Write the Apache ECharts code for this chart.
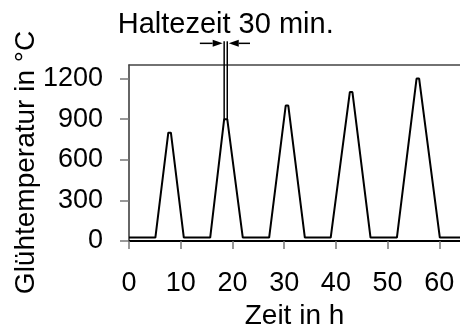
<!DOCTYPE html>
<html>
<head>
<meta charset="utf-8">
<script src="https://cdn.jsdelivr.net/npm/echarts@6/dist/echarts.min.js"></script>
<style>
  html, body { margin: 0; padding: 0; background: #fff; }
  #chart { width: 460px; height: 324px; }
</style>
</head>
<body>
<div id="chart"></div>
<script>
// Annealing cycles: time in hours vs. annealing temperature in °C
const timeH = [0, 5.1, 7.6, 8.1, 10.6, 15.7, 18.4, 19.0, 22.0, 27.1, 30.3, 30.8, 34.0, 39.0, 42.7, 43.2, 46.7, 51.8, 55.6, 56.1, 60.1, 64];
const tempC = [25, 25, 800, 800, 25, 25, 900, 900, 25, 25, 1000, 1000, 25, 25, 1100, 1100, 25, 25, 1200, 1200, 25, 25];

// Holding time marker (30 min) on the second cycle
const holdStartH = 18.4;
const holdEndH = 19.0;
const holdBaseC = 900;
const holdTopC = 1475;
const arrowLevelC = 1460;
const arrowLeftFromH = 13.7;
const arrowRightFromH = 23.4;
const holdLabel = 'Haltezeit 30 min.';

// Axes
const xTicks = [0, 10, 20, 30, 40, 50, 60];
const yTicks = [0, 300, 600, 900, 1200];
const xMax = 64;
const yMax = 1300;
const xTitle = 'Zeit in h';
const yTitle = 'Glühtemperatur in °C';

const FONT = 'Liberation Sans, Arial, Helvetica, sans-serif';

const chart = echarts.init(document.getElementById('chart'), null, { renderer: 'canvas' });

const curve = timeH.map((t, i) => [t, tempC[i]]);

chart.setOption({
  animation: false,
  backgroundColor: '#fff',
  grid: { left: 129, top: 65, width: 331, height: 176, containLabel: false, outerBoundsMode: 'none' },
  xAxis: [
    {
      type: 'value', min: 0, max: xMax, interval: 10,
      position: 'bottom',
      axisLine: { onZero: false, lineStyle: { color: '#000', width: 2 } },
      axisTick: { customValues: xTicks, length: 8, lineStyle: { color: '#777', width: 1.5 } },
      axisLabel: { customValues: xTicks, margin: 29, fontSize: 27, color: '#000', fontFamily: FONT,
                   formatter: v => String(v) },
      splitLine: { show: false },
      name: xTitle, nameLocation: 'middle', nameGap: 56,
      nameTextStyle: { fontSize: 28, color: '#000', fontFamily: FONT }
    },
    {
      type: 'value', min: 0, max: xMax, position: 'top',
      axisLine: { show: true, onZero: false, lineStyle: { color: '#444', width: 1.5 } },
      axisTick: { show: false }, axisLabel: { show: false }, splitLine: { show: false }
    }
  ],
  yAxis: {
    type: 'value', min: 0, max: yMax, interval: 300,
    axisLine: { show: true, onZero: false, lineStyle: { color: '#333', width: 1.5 } },
    axisTick: { show: true, customValues: yTicks, length: 9, lineStyle: { color: '#777', width: 1.5 } },
    axisLabel: { customValues: yTicks, margin: 26, fontSize: 27, color: '#000', fontFamily: FONT,
                 formatter: v => String(v) },
    splitLine: { show: false }
  },
  series: [
    {
      type: 'line', data: curve, symbol: 'none',
      lineStyle: { color: '#000', width: 2 }
    },
    {
      type: 'line', data: [[holdStartH, holdBaseC], [holdStartH, holdTopC]], symbol: 'none',
      clip: false, lineStyle: { color: '#000', width: 1.5 }
    },
    {
      type: 'line', data: [[holdEndH, holdBaseC], [holdEndH, holdTopC]], symbol: 'none',
      clip: false, lineStyle: { color: '#000', width: 1.5 }
    }
  ]
});

// Arrows pointing at the holding interval, plus its label and the y-axis title
const px = p => chart.convertToPixel({ seriesIndex: 0 }, p);
const lStart = px([arrowLeftFromH, arrowLevelC]);
const lEnd = px([holdStartH, arrowLevelC]);
const rStart = px([arrowRightFromH, arrowLevelC]);
const rEnd = px([holdEndH, arrowLevelC]);
const headLen = 10, headHalf = 3.5;

function arrow(from, to) {
  const dir = Math.sign(to[0] - from[0]);
  const tipX = to[0] - dir * 1.5;
  return [
    { type: 'line', shape: { x1: from[0], y1: from[1], x2: tipX - dir * headLen, y2: to[1] },
      style: { stroke: '#000', lineWidth: 1.5 } },
    { type: 'polygon', shape: { points: [[tipX, to[1]], [tipX - dir * headLen, to[1] - headHalf], [tipX - dir * headLen, to[1] + headHalf]] },
      style: { fill: '#000' } }
  ];
}

const mid = (lEnd[0] + rEnd[0]) / 2;
chart.setOption({
  graphic: [
    ...arrow(lStart, lEnd),
    ...arrow(rStart, rEnd),
    { type: 'text', x: mid, y: 25,
      style: { text: holdLabel, font: '29px ' + FONT, fill: '#000', align: 'center', verticalAlign: 'middle' } },
    { type: 'text', x: 26, y: 162.5, rotation: Math.PI / 2,
      style: { text: yTitle, font: '28px ' + FONT, fill: '#000', align: 'center', verticalAlign: 'middle' } }
  ]
});
</script>
</body>
</html>
